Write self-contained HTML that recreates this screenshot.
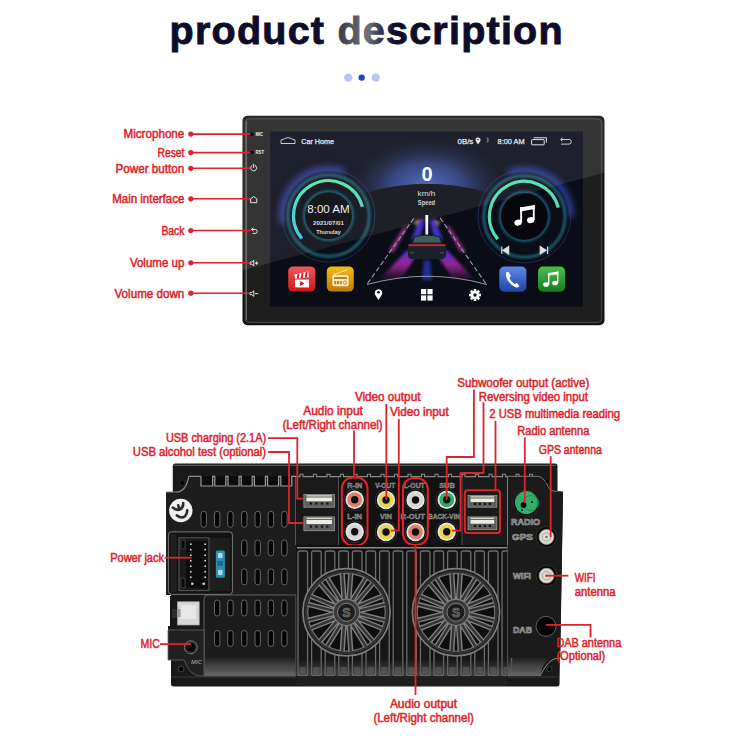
<!DOCTYPE html>
<html><head><meta charset="utf-8"><style>
html,body{margin:0;padding:0;background:#fff;width:750px;height:750px;overflow:hidden}
svg{display:block;font-family:'Liberation Sans', sans-serif}
</style></head><body>
<svg width="750" height="750" viewBox="0 0 750 750">
<defs>
<linearGradient id="tg" x1="339" y1="0" x2="396" y2="0" gradientUnits="userSpaceOnUse">
<stop offset="0" stop-color="#3c3c4a"/><stop offset="0.5" stop-color="#707078"/><stop offset="0.72" stop-color="#3a3a4c"/><stop offset="1" stop-color="#0d0c2a"/>
</linearGradient>
<linearGradient id="arcg" x1="0" y1="0" x2="0" y2="1"><stop offset="0" stop-color="#5de3a5"/><stop offset="1" stop-color="#3ec3e8"/></linearGradient>
<radialGradient id="glowL" cx="0.5" cy="0.5" r="0.5"><stop offset="0.6" stop-color="#2b3c8a" stop-opacity="0.8"/><stop offset="1" stop-color="#2b3c8a" stop-opacity="0"/></radialGradient>
<linearGradient id="redI" x1="0" y1="0" x2="0" y2="1"><stop offset="0" stop-color="#f25a5a"/><stop offset="1" stop-color="#cc1515"/></linearGradient>
<linearGradient id="yelI" x1="0" y1="0" x2="0" y2="1"><stop offset="0" stop-color="#f5bd12"/><stop offset="1" stop-color="#b97a0c"/></linearGradient>
<linearGradient id="bluI" x1="0" y1="0" x2="0" y2="1"><stop offset="0" stop-color="#5b8ae6"/><stop offset="1" stop-color="#2243a6"/></linearGradient>
<linearGradient id="grnI" x1="0" y1="0" x2="0" y2="1"><stop offset="0" stop-color="#4cc04a"/><stop offset="1" stop-color="#167a22"/></linearGradient>
<radialGradient id="skyg" cx="0.5" cy="0.15" r="0.6"><stop offset="0" stop-color="#3a4e9a"/><stop offset="1" stop-color="#1d2236" stop-opacity="0"/></radialGradient>
</defs>
<text x="169.6" y="43.8" font-size="39.5" font-weight="bold" fill="#0d0c2a" stroke="#0d0c2a" stroke-width="0.9" textLength="393" lengthAdjust="spacing">product <tspan fill="url(#tg)" stroke="url(#tg)">des</tspan>cription</text>
<circle cx="348.2" cy="77.6" r="4.2" fill="#b7c6ec"/>
<circle cx="361.7" cy="77.6" r="3.2" fill="#1f47c6"/>
<circle cx="375.8" cy="77.6" r="4.2" fill="#b7c6ec"/>
<rect x="242.5" y="115.7" width="362" height="209.6" rx="5" fill="#121212"/>
<rect x="245.3" y="118.8" width="356.4" height="203.6" rx="4" fill="#1e1e1e" stroke="#5a5a5a" stroke-width="0.8"/>
<clipPath id="unitclip"><rect x="242.5" y="115.7" width="362" height="209.6" rx="5"/></clipPath>
<polygon clip-path="url(#unitclip)" points="240,110 610,110 610,171.2 240,271" fill="#fff" opacity="0.1"/>
<rect x="270" y="131.8" width="313" height="174.6" fill="#0a0c17"/>
<clipPath id="scr"><rect x="270" y="131.8" width="313" height="174.6"/></clipPath>
<clipPath id="abovearc"><path d="M270,131.8 H583 V306 H577 V290 A150,106 0 0 0 277,290 V306 H270 Z"/></clipPath>
<g clip-path="url(#scr)">
<rect x="270" y="131.8" width="313" height="174.6" fill="#0e1120"/>
<defs><radialGradient id="dome" cx="427" cy="186" r="80" gradientUnits="userSpaceOnUse" gradientTransform="translate(427 186) scale(1 0.62) translate(-427 -186)"><stop offset="0" stop-color="#4560b8"/><stop offset="0.45" stop-color="#2c3a78"/><stop offset="1" stop-color="#111422" stop-opacity="0"/></radialGradient></defs>
<rect x="270" y="100" width="313" height="200" fill="url(#dome)" clip-path="url(#abovearc)"/>
<ellipse cx="427" cy="290" rx="150" ry="106" fill="#101118"/>
<polygon points="265,264.3 590,176.5 590,320 265,320" fill="#090b16" opacity="0.7"/>
</g>
<path d="M246.4,121 V320" stroke="#7a7a7a" stroke-width="0.9"/>
<circle cx="251.7" cy="134.4" r="1.8" fill="#050505"/><text x="255.5" y="136.2" font-size="5" font-weight="bold" fill="#eee" textLength="7.5" lengthAdjust="spacingAndGlyphs">MIC</text>
<circle cx="251.7" cy="152.5" r="1.8" fill="#050505"/><text x="255.5" y="154.3" font-size="5" font-weight="bold" fill="#eee" textLength="8.5" lengthAdjust="spacingAndGlyphs">RST</text>
<g fill="none" stroke="#eeeeee" stroke-width="0.95" stroke-linecap="round">
<path d="M255.3,165.3 A3,3 0 1 1 252.1,165.3 M253.7,164.2 V167.6"/>
<path d="M250.6,202.3 V198.8 L253.7,196.5 L256.8,198.8 V202.3 Z"/>
<path d="M251.8,229.4 H255.2 A2,2 0 0 1 255.2,233.4 H253 M253.2,227.9 L251.6,229.4 L253.2,230.9"/>
<path d="M250.3,262 H251.8 L253.8,260.3 V265.9 L251.8,264.2 H250.3 Z M255.4,263.1 H257.8 M256.6,261.9 V264.3"/>
<path d="M250.3,292.5 H251.8 L253.8,290.8 V296.4 L251.8,294.7 H250.3 Z M255.4,293.6 H257.8"/>
</g>
<path d="M281,143.5 V140 L288,137.5 L295,140 V143.5 Z" fill="none" stroke="#ddd" stroke-width="0.9"/>
<text x="301.3" y="144" font-size="7.6" fill="#ececec" stroke="#ececec" stroke-width="0.25" textLength="32.7" lengthAdjust="spacingAndGlyphs">Car Home</text>
<text x="457.5" y="143.8" font-size="7.6" fill="#e8e8e8" stroke="#e8e8e8" stroke-width="0.25" textLength="15.8" lengthAdjust="spacingAndGlyphs">0B/s</text>
<path d="M478,144.5 L475.6,140.8 A2.5,2.5 0 1 1 480.4,140.8 Z" fill="#f2f2f2"/><circle cx="478" cy="139.6" r="0.8" fill="#1d2030"/>
<path d="M486,138 L489,141 L487.5,142.5 V137.5 L489,139 L486,142" fill="none" stroke="#777" stroke-width="0.6"/>
<text x="497.6" y="143.8" font-size="7.6" fill="#e8e8e8" stroke="#e8e8e8" stroke-width="0.25" textLength="27" lengthAdjust="spacingAndGlyphs">8:00 AM</text>
<rect x="531.6" y="139.6" width="12.6" height="5.2" rx="0.6" fill="none" stroke="#e0e0e0" stroke-width="1"/><path d="M533.6,137.8 H546.4 V142.6" fill="none" stroke="#e0e0e0" stroke-width="1"/>
<path d="M561,139.5 H569 A2.3,2.3 0 0 1 569,144.1 H561 M562.5,137.8 L560.6,139.5 L562.5,141.2" fill="none" stroke="#ddd" stroke-width="0.9"/>
<defs><filter id="bl3" x="-50%" y="-50%" width="200%" height="200%"><feGaussianBlur stdDeviation="3"/></filter><filter id="bl1" x="-50%" y="-50%" width="200%" height="200%"><feGaussianBlur stdDeviation="0.9"/></filter></defs>
<path d="M283.20,223.69 A46,46 0 0 1 344.23,172.47" fill="none" stroke="#3a4cc0" stroke-width="7" filter="url(#bl3)" opacity="0.75"/>
<circle cx="328.5" cy="215.7" r="44" fill="#0e1220" fill-opacity="0.55"/>
<circle cx="328.5" cy="215.7" r="46.5" fill="none" stroke="#2c3c7a" stroke-width="0.8" opacity="0.8"/>
<circle cx="328.5" cy="215.7" r="40.7" fill="none" stroke="#1d6272" stroke-width="2.6" filter="url(#bl1)"/>
<circle cx="328.5" cy="215.7" r="37.5" fill="#0b0e17"/>
<path d="M301.89,238.43 A35,35 0 1 1 362.39,206.94" fill="none" stroke="url(#arcg)" stroke-width="3.2" />
<circle cx="328.5" cy="215.7" r="24.5" fill="#06080d" stroke="#25708c" stroke-width="1.6" filter="url(#bl1)"/>
<circle cx="328.5" cy="215.7" r="23.3" fill="#06080d"/>
<text x="328.5" y="212.8" font-size="10" text-anchor="middle" fill="#eee" textLength="42.5" lengthAdjust="spacingAndGlyphs">8:00 AM</text>
<text x="328.5" y="224.5" font-size="6" font-weight="bold" text-anchor="middle" fill="#ddd" textLength="31" lengthAdjust="spacingAndGlyphs">2021/07/01</text>
<text x="328.5" y="234" font-size="6" font-weight="bold" text-anchor="middle" fill="#ddd" textLength="24.5" lengthAdjust="spacingAndGlyphs">Thursday</text>
<path d="M508.67,173.17 A46,46 0 0 1 570.40,216.40" fill="none" stroke="#3a4cc0" stroke-width="7" filter="url(#bl3)" opacity="0.75"/>
<circle cx="524.4" cy="216.4" r="44" fill="#0e1220" fill-opacity="0.55"/>
<circle cx="524.4" cy="216.4" r="46.5" fill="none" stroke="#2c3c7a" stroke-width="0.8" opacity="0.8"/>
<circle cx="524.4" cy="216.4" r="40.7" fill="none" stroke="#1d6272" stroke-width="2.6" filter="url(#bl1)"/>
<circle cx="524.4" cy="216.4" r="37.5" fill="#0b0e17"/>
<path d="M497.79,239.13 A35,35 0 1 1 558.29,207.64" fill="none" stroke="#52dfb2" stroke-width="3.2" />
<circle cx="524.4" cy="216.4" r="24.5" fill="#06080d" stroke="#25708c" stroke-width="1.6" filter="url(#bl1)"/>
<circle cx="524.4" cy="216.4" r="23.3" fill="#06080d"/>
<g fill="#fff"><ellipse cx="518" cy="222.6" rx="3.7" ry="3" transform="rotate(-15 518 222.6)"/><ellipse cx="530.6" cy="220.1" rx="3.7" ry="3" transform="rotate(-15 530.6 220.1)"/><rect x="520.2" y="207" width="1.9" height="15.5"/><rect x="532.8" y="205" width="1.9" height="15"/><polygon points="520.2,207.5 534.7,205 534.7,209 520.2,211.5"/></g>
<path d="M501.8,246.5 V254 M508.7,246.5 L503,250.2 L508.7,254 Z" fill="#e0e0e0" stroke="#e0e0e0" stroke-width="1.1"/>
<path d="M547.6,246.5 V254 M540.2,246.5 L546,250.2 L540.2,254 Z" fill="#e0e0e0" stroke="#e0e0e0" stroke-width="1.1"/>
<text x="427" y="181.3" font-size="20" font-weight="bold" text-anchor="middle" fill="#fff">0</text>
<text x="426.5" y="195.5" font-size="7.7" text-anchor="middle" fill="#ddd" textLength="18" lengthAdjust="spacingAndGlyphs">km/h</text>
<text x="426.5" y="205.3" font-size="6.5" font-weight="bold" text-anchor="middle" fill="#ccc" textLength="17.3" lengthAdjust="spacingAndGlyphs">Speed</text>
<defs><linearGradient id="strL" x1="0" y1="0" x2="0" y2="1"><stop offset="0" stop-color="#4a3ae0" stop-opacity="0.9"/><stop offset="0.45" stop-color="#b02ab0" stop-opacity="0.85"/><stop offset="1" stop-color="#a02890" stop-opacity="0"/></linearGradient><linearGradient id="beam" x1="0" y1="0" x2="0" y2="1"><stop offset="0" stop-color="#fff"/><stop offset="1" stop-color="#dde4ff"/></linearGradient><filter id="blur2" x="-50%" y="-50%" width="200%" height="200%"><feGaussianBlur stdDeviation="1.8"/></filter><filter id="blur1" x="-50%" y="-50%" width="200%" height="200%"><feGaussianBlur stdDeviation="0.6"/></filter></defs>
<g filter="url(#blur2)">
<polygon points="407,250 416,256 400,281 380,279" fill="url(#strL)"/>
<polygon points="447,250 438,256 454,281 474,279" fill="url(#strL)"/>
<polygon points="419,220 425,220 419,240 411,240" fill="#4a3ae0" opacity="0.85"/>
<polygon points="435,220 429,220 435,240 443,240" fill="#4a3ae0" opacity="0.85"/>
<polygon points="403,228 409,224 394,252 388,252" fill="#c03aa0" opacity="0.7"/>
<polygon points="451,228 445,224 460,252 466,252" fill="#c03aa0" opacity="0.7"/>
<polygon points="414,222 420,219 416,226" fill="#f0a060" opacity="0.7"/>
<polygon points="440,222 434,219 438,226" fill="#f0a060" opacity="0.7"/>
<polygon points="424,260 430,260 432,280 422,280" fill="#2a3ac0" opacity="0.7"/>
</g>
<path d="M367.5,283.5 L415,216.7 M485.8,283.5 L439.2,216.7" stroke="#9a9ab0" stroke-width="1.1" stroke-dasharray="5,2.5"/>
<rect x="425.4" y="215" width="2.8" height="21" fill="url(#beam)" filter="url(#blur1)"/>
<path d="M414,236 Q427,233 440,236 L443,243 L446,245.5 L446,256 Q445,259 442,259 L412,259 Q409,259 408,256 L408,245.5 L411,243 Z" fill="#1a2128"/>
<path d="M415,237 Q427,234.5 439,237 L441,242.5 L413,242.5 Z" fill="#3e5e5a"/>
<rect x="408.5" y="244.2" width="37" height="2" fill="#b82a3a"/>
<rect x="410" y="252" width="4" height="1.5" fill="#444"/><rect x="440" y="252" width="4" height="1.5" fill="#444"/>
<path d="M367,284.5 Q427,268 487,284.5" fill="none" stroke="#a0a0b0" stroke-width="0.9"/>
<path d="M378.5,300 L375,294.5 A3.8,3.8 0 1 1 382,294.5 Z" fill="#fff"/><circle cx="378.5" cy="292.2" r="1.3" fill="#0a0c17"/>
<g fill="#fff"><rect x="421" y="289" width="5.2" height="5.2"/><rect x="427.4" y="289" width="5.2" height="5.2"/><rect x="421" y="295.4" width="5.2" height="5.2"/><rect x="427.4" y="295.4" width="5.2" height="5.2"/></g>
<g transform="translate(475,295)"><circle r="4.3" fill="#fff"/><rect x="-1.3" y="-6" width="2.6" height="3" fill="#fff" transform="rotate(0)"/><rect x="-1.3" y="-6" width="2.6" height="3" fill="#fff" transform="rotate(45)"/><rect x="-1.3" y="-6" width="2.6" height="3" fill="#fff" transform="rotate(90)"/><rect x="-1.3" y="-6" width="2.6" height="3" fill="#fff" transform="rotate(135)"/><rect x="-1.3" y="-6" width="2.6" height="3" fill="#fff" transform="rotate(180)"/><rect x="-1.3" y="-6" width="2.6" height="3" fill="#fff" transform="rotate(225)"/><rect x="-1.3" y="-6" width="2.6" height="3" fill="#fff" transform="rotate(270)"/><rect x="-1.3" y="-6" width="2.6" height="3" fill="#fff" transform="rotate(315)"/><circle r="1.7" fill="#0a0c17"/></g>
<rect x="288.2" y="266.4" width="27.2" height="25.2" rx="5" fill="url(#redI)"/>
<g fill="#fff"><rect x="295" y="279.6" width="13.9" height="7.8"/><polygon points="294.4,274.5 308.2,271.5 309,277.3 295.2,278.8"/></g>
<g fill="#d42020"><polygon points="297.5,273.9 299.5,273.5 298.8,278.5 296.8,278.7"/><polygon points="301.5,273 303.5,272.6 302.8,278 300.8,278.2"/><polygon points="305.5,272.2 307.5,271.8 306.8,277.5 304.8,277.7"/></g>
<polygon points="300.2,281 304.6,283.5 300.2,286" fill="#c81818"/>
<rect x="326.8" y="266.4" width="27" height="25.2" rx="5" fill="url(#yelI)"/>
<path d="M333.5,274.5 L347.5,269.7" stroke="#f8ecc8" stroke-width="1"/>
<rect x="332.3" y="275" width="16.3" height="11.3" rx="1.8" fill="#f8ecc8"/>
<rect x="334" y="277" width="13" height="2" fill="#b88418"/>
<g fill="#b88418"><rect x="334.2" y="281" width="2" height="3.2"/><rect x="337" y="281" width="2" height="3.2"/><rect x="339.8" y="281" width="2" height="3.2"/></g><circle cx="345" cy="282.6" r="1.7" fill="none" stroke="#b88418" stroke-width="0.9"/>
<rect x="499.3" y="266.5" width="27.1" height="25.2" rx="5" fill="url(#bluI)"/>
<path d="M506.5,272 Q505,274 507,279 Q510,285 516,287.5 Q518.5,288 519.5,286 L517,283 L514.5,284 Q510.5,281.5 509.5,278 L511,276 L508.5,272 Z" fill="#fff"/>
<rect x="538" y="266.5" width="27.1" height="25.2" rx="5" fill="url(#grnI)"/>
<g fill="#fff"><ellipse cx="546" cy="284.5" rx="2.8" ry="2.3"/><ellipse cx="555" cy="283" rx="2.8" ry="2.3"/><rect x="548" y="273" width="1.4" height="11.5"/><rect x="557" y="271.5" width="1.4" height="11.5"/><polygon points="548,273 558.4,271.5 558.4,274.2 548,275.7"/></g>
<polygon clip-path="url(#scr)" points="240,110 610,110 610,171.2 240,271" fill="#fff" opacity="0.065"/>
<text x="184.3" y="138.4" font-size="12" text-anchor="end" textLength="60.8" lengthAdjust="spacingAndGlyphs" fill="#e0232b" stroke="#e0232b" stroke-width="0.5" class="lb">Microphone</text>
<circle cx="190.8" cy="134.1" r="2.6" fill="#e0232b"/>
<path d="M190.8,134.1 L250.5,134.1" fill="none" stroke="#e0232b" stroke-width="1.6"/>
<text x="184.3" y="156.9" font-size="12" text-anchor="end" textLength="26.7" lengthAdjust="spacingAndGlyphs" fill="#e0232b" stroke="#e0232b" stroke-width="0.5" class="lb">Reset</text>
<circle cx="190.8" cy="152.6" r="2.6" fill="#e0232b"/>
<path d="M190.8,152.6 L250.5,152.6" fill="none" stroke="#e0232b" stroke-width="1.6"/>
<text x="184.3" y="172.6" font-size="12" text-anchor="end" textLength="68.9" lengthAdjust="spacingAndGlyphs" fill="#e0232b" stroke="#e0232b" stroke-width="0.5" class="lb">Power button</text>
<circle cx="190.8" cy="168.3" r="2.6" fill="#e0232b"/>
<path d="M190.8,168.3 L250,168.3" fill="none" stroke="#e0232b" stroke-width="1.6"/>
<text x="184.3" y="203.1" font-size="12" text-anchor="end" textLength="72.1" lengthAdjust="spacingAndGlyphs" fill="#e0232b" stroke="#e0232b" stroke-width="0.5" class="lb">Main interface</text>
<circle cx="190.8" cy="198.8" r="2.6" fill="#e0232b"/>
<path d="M190.8,198.8 L250,198.8" fill="none" stroke="#e0232b" stroke-width="1.6"/>
<text x="184.3" y="234.8" font-size="12" text-anchor="end" textLength="22.9" lengthAdjust="spacingAndGlyphs" fill="#e0232b" stroke="#e0232b" stroke-width="0.5" class="lb">Back</text>
<circle cx="190.8" cy="230.5" r="2.6" fill="#e0232b"/>
<path d="M190.8,230.5 L251,230.5" fill="none" stroke="#e0232b" stroke-width="1.6"/>
<text x="184.3" y="267.1" font-size="12" text-anchor="end" textLength="54.4" lengthAdjust="spacingAndGlyphs" fill="#e0232b" stroke="#e0232b" stroke-width="0.5" class="lb">Volume up</text>
<circle cx="190.8" cy="262.8" r="2.6" fill="#e0232b"/>
<path d="M190.8,262.8 L250,262.8" fill="none" stroke="#e0232b" stroke-width="1.6"/>
<text x="184.3" y="297.5" font-size="12" text-anchor="end" textLength="69.8" lengthAdjust="spacingAndGlyphs" fill="#e0232b" stroke="#e0232b" stroke-width="0.5" class="lb">Volume down</text>
<circle cx="190.8" cy="293.2" r="2.6" fill="#e0232b"/>
<path d="M190.8,293.2 L250,293.2" fill="none" stroke="#e0232b" stroke-width="1.6"/>
<path d="M175,463.5 H555 Q557.5,463.5 557.5,466 V491.5 H561 Q563,491.5 563,494 L559.5,684 Q559.5,686.5 557,686.5 H174 Q171,686.5 171,684 V660 H168 V626 H171 V595 H166 V492 H172.8 V466 Q172.8,463.5 175,463.5 Z" fill="#19191a"/>
<path d="M174,465.3 H556" stroke="#6a6a6a" stroke-width="1"/>
<path d="M166,492 H176 Q186,492 188.8,476.3 H296 V595 H166 Z" fill="#1d1d1e"/>
<path d="M166,492 H176 Q186,492 188.8,476.3 H201" fill="none" stroke="#8a8a8a" stroke-width="1.2"/>
<path d="M295.5,476.3 V545" stroke="#555" stroke-width="1"/>
<circle cx="182.4" cy="482.7" r="2.8" fill="#050505" stroke="#3a3a3a" stroke-width="0.6"/>
<path d="M201,476.3 V486 H212.6 V476.3 H214.8 V486 H225.8 V476.3 H228.0 V486 H239.0 V476.3 H241.2 V486 H252.2 V476.3 H254.4 V486 H265.4 V476.3 H267.6 V486 H278.6 V476.3 H280.8 V486 H291.8 V476.3 H294.0 H296" fill="#0b0b0b" stroke="#9a9a9a" stroke-width="1.2"/>
<circle cx="180.8" cy="510.5" r="11.7" fill="#f0f0f0"/>
<path d="M172.8,507.6 Q176.5,510.8 180.2,509.4 Q183.4,507.6 183.2,503 M178.2,505.2 L179,508.6 M176.9,515.4 Q181.5,519 185,516.2 Q187.3,514 187.2,510.4" fill="none" stroke="#2a2a2a" stroke-width="2.6" stroke-linecap="round"/>
<rect x="201.0" y="511.3" width="5.4" height="16" rx="2.7" fill="#050505" stroke="#8a8a8a" stroke-width="0.7"/>
<rect x="214.5" y="511.3" width="5.4" height="16" rx="2.7" fill="#050505" stroke="#8a8a8a" stroke-width="0.7"/>
<rect x="227.7" y="511.3" width="5.4" height="16" rx="2.7" fill="#050505" stroke="#8a8a8a" stroke-width="0.7"/>
<rect x="241.6" y="511.3" width="5.4" height="16" rx="2.7" fill="#050505" stroke="#8a8a8a" stroke-width="0.7"/>
<rect x="255.0" y="511.3" width="5.4" height="16" rx="2.7" fill="#050505" stroke="#8a8a8a" stroke-width="0.7"/>
<rect x="268.2" y="511.3" width="5.4" height="16" rx="2.7" fill="#050505" stroke="#8a8a8a" stroke-width="0.7"/>
<rect x="281.7" y="511.3" width="5.4" height="16" rx="2.7" fill="#050505" stroke="#8a8a8a" stroke-width="0.7"/>
<rect x="241.6" y="540.0" width="5.4" height="16" rx="2.7" fill="#050505" stroke="#8a8a8a" stroke-width="0.7"/>
<rect x="255.0" y="540.0" width="5.4" height="16" rx="2.7" fill="#050505" stroke="#8a8a8a" stroke-width="0.7"/>
<rect x="268.2" y="540.0" width="5.4" height="16" rx="2.7" fill="#050505" stroke="#8a8a8a" stroke-width="0.7"/>
<rect x="281.7" y="540.0" width="5.4" height="16" rx="2.7" fill="#050505" stroke="#8a8a8a" stroke-width="0.7"/>
<rect x="241.6" y="568.9" width="5.4" height="16" rx="2.7" fill="#050505" stroke="#8a8a8a" stroke-width="0.7"/>
<rect x="255.0" y="568.9" width="5.4" height="16" rx="2.7" fill="#050505" stroke="#8a8a8a" stroke-width="0.7"/>
<rect x="268.2" y="568.9" width="5.4" height="16" rx="2.7" fill="#050505" stroke="#8a8a8a" stroke-width="0.7"/>
<rect x="281.7" y="568.9" width="5.4" height="16" rx="2.7" fill="#050505" stroke="#8a8a8a" stroke-width="0.7"/>
<rect x="168.4" y="531.9" width="64" height="62.4" rx="3" fill="#121213" stroke="#7a7a7a" stroke-width="1"/>
<rect x="170.5" y="534" width="6" height="58" fill="#202020"/>
<rect x="179" y="537.8" width="30" height="52.8" fill="#1a1a1a" stroke="#5a5a5a" stroke-width="1"/>
<rect x="186" y="541" width="22" height="47" fill="#0d0d0d"/>
<rect x="181" y="540" width="4" height="9" fill="#0a0a0a" stroke="#555" stroke-width="0.6"/><rect x="181" y="578" width="4" height="10" fill="#0a0a0a" stroke="#555" stroke-width="0.6"/>
<circle cx="190.8" cy="544.2" r="0.9" fill="#ddd"/><circle cx="205.2" cy="544.2" r="0.9" fill="#ddd"/>
<circle cx="190.8" cy="549.7" r="0.9" fill="#ddd"/><circle cx="205.2" cy="549.7" r="0.9" fill="#ddd"/>
<circle cx="190.8" cy="555.2" r="0.9" fill="#ddd"/><circle cx="205.2" cy="555.2" r="0.9" fill="#ddd"/>
<circle cx="190.8" cy="560.7" r="0.9" fill="#ddd"/><circle cx="205.2" cy="560.7" r="0.9" fill="#ddd"/>
<circle cx="190.8" cy="566.2" r="0.9" fill="#ddd"/><circle cx="205.2" cy="566.2" r="0.9" fill="#ddd"/>
<circle cx="190.8" cy="571.7" r="0.9" fill="#ddd"/><circle cx="205.2" cy="571.7" r="0.9" fill="#ddd"/>
<circle cx="190.8" cy="577.2" r="0.9" fill="#ddd"/><circle cx="205.2" cy="577.2" r="0.9" fill="#ddd"/>
<circle cx="192.3" cy="583.7" r="1.3" fill="#ddd"/><circle cx="203.7" cy="583.7" r="1.3" fill="#ddd"/>
<rect x="210" y="538" width="20" height="53" fill="#1e1e1f"/>
<rect x="215.9" y="550.6" width="9" height="27.2" rx="1.5" fill="#2f8fb0"/><rect x="218" y="553" width="4.5" height="5" fill="#9fe0f0"/><rect x="218" y="570" width="4.5" height="5" fill="#9fe0f0"/><rect x="217.5" y="561" width="5.5" height="5" fill="#1a6a88"/>
<rect x="170" y="596" width="34" height="31" fill="#161617"/>
<rect x="172" y="609" width="6" height="9" fill="#2a2a2a"/>
<rect x="177.5" y="601.8" width="21.7" height="23.2" fill="#d5d5d5" stroke="#aaa" stroke-width="0.7"/><rect x="181" y="605" width="15" height="14" fill="#e8e8e8"/><rect x="177.5" y="609" width="3" height="8" fill="#999"/>
<path d="M204,676 V599 Q204,595 208,595 H296 V676 Z" fill="#1c1c1d" stroke="#6a6a6a" stroke-width="0.9"/>
<defs><linearGradient id="refl" x1="0" y1="0" x2="0" y2="1"><stop offset="0" stop-color="#3c3c3e" stop-opacity="0.2"/><stop offset="0.4" stop-color="#4a4a4c" stop-opacity="0.8"/><stop offset="1" stop-color="#68686a"/></linearGradient></defs>
<rect x="204.5" y="658" width="91" height="18" fill="url(#refl)"/>
<rect x="214.5" y="600.0" width="5.4" height="16" rx="2.7" fill="#050505" stroke="#8a8a8a" stroke-width="0.7"/>
<rect x="227.7" y="600.0" width="5.4" height="16" rx="2.7" fill="#050505" stroke="#8a8a8a" stroke-width="0.7"/>
<rect x="241.6" y="600.0" width="5.4" height="16" rx="2.7" fill="#050505" stroke="#8a8a8a" stroke-width="0.7"/>
<rect x="255.0" y="600.0" width="5.4" height="16" rx="2.7" fill="#050505" stroke="#8a8a8a" stroke-width="0.7"/>
<rect x="268.2" y="600.0" width="5.4" height="16" rx="2.7" fill="#050505" stroke="#8a8a8a" stroke-width="0.7"/>
<rect x="281.7" y="600.0" width="5.4" height="16" rx="2.7" fill="#050505" stroke="#8a8a8a" stroke-width="0.7"/>
<rect x="214.5" y="630.5" width="5.4" height="16" rx="2.7" fill="#050505" stroke="#8a8a8a" stroke-width="0.7"/>
<rect x="227.7" y="630.5" width="5.4" height="16" rx="2.7" fill="#050505" stroke="#8a8a8a" stroke-width="0.7"/>
<rect x="241.6" y="630.5" width="5.4" height="16" rx="2.7" fill="#050505" stroke="#8a8a8a" stroke-width="0.7"/>
<rect x="255.0" y="630.5" width="5.4" height="16" rx="2.7" fill="#050505" stroke="#8a8a8a" stroke-width="0.7"/>
<rect x="268.2" y="630.5" width="5.4" height="16" rx="2.7" fill="#050505" stroke="#8a8a8a" stroke-width="0.7"/>
<rect x="281.7" y="630.5" width="5.4" height="16" rx="2.7" fill="#050505" stroke="#8a8a8a" stroke-width="0.7"/>
<path d="M168,630 H204 V676 H200 Q190,676 184,660 H168 Z" fill="#202021" stroke="#666" stroke-width="0.8"/>
<circle cx="190.8" cy="647.3" r="6.5" fill="#2a2a2a" stroke="#777" stroke-width="1"/><circle cx="190.8" cy="647.3" r="4.3" fill="#050505"/>
<text x="191" y="663.5" font-size="6" font-weight="bold" fill="#8a8a8a" font-style="italic">MIC</text>
<circle cx="181" cy="669" r="3" fill="#050505" stroke="#4a4a4a" stroke-width="0.8"/>
<path d="M171,677 H558.5" stroke="#3a3a3a" stroke-width="1"/>
<rect x="296.5" y="476" width="211" height="69" fill="#1a1a1b"/>
<rect x="339" y="477" width="123" height="68" fill="#121213"/>
<path d="M338.5,477 V545 M462,477 V545" stroke="#555" stroke-width="0.9"/>
<path d="M296,476.6 H300.0 V474.2 H303.0 V476.6 H313.5 V474.2 H316.5 V476.6 H327.0 V474.2 H330.0 V476.6 H340.5 V474.2 H343.5 V476.6 H354.0 V474.2 H357.0 V476.6 H367.5 V474.2 H370.5 V476.6 H381.0 V474.2 H384.0 V476.6 H394.5 V474.2 H397.5 V476.6 H408.0 V474.2 H411.0 V476.6 H421.5 V474.2 H424.5 V476.6 H435.0 V474.2 H438.0 V476.6 H448.5 V474.2 H451.5 V476.6 H462.0 V474.2 H465.0 V476.6 H475.5 V474.2 H478.5 V476.6 H489.0 V474.2 H492.0 V476.6 H502.5 V474.2 H505.5 V476.6 H516.0 V474.2 H519.0 V476.6 H529.5 V474.2 H532.5 V476.6 H507.5" fill="none" stroke="#8a8a8a" stroke-width="1.1"/>
<rect x="303.9" y="494.5" width="30.5" height="12.7" fill="#5e5e5a" stroke="#9a9a92" stroke-width="0.8"/>
<rect x="306.4" y="495.3" width="25.5" height="1.2" fill="#e8e4d8"/>
<rect x="306.4" y="497.5" width="25.5" height="3.8" fill="#ecebe6"/>
<rect x="309.8" y="502.4" width="2.2" height="2.2" fill="#111"/>
<rect x="315.3" y="502.4" width="2.2" height="2.2" fill="#111"/>
<rect x="320.8" y="502.4" width="2.2" height="2.2" fill="#111"/>
<rect x="326.3" y="502.4" width="2.2" height="2.2" fill="#111"/>
<rect x="303.9" y="516.9" width="30.5" height="13.8" fill="#5e5e5a" stroke="#9a9a92" stroke-width="0.8"/>
<rect x="306.4" y="517.7" width="25.5" height="1.2" fill="#e8e4d8"/>
<rect x="306.4" y="519.9" width="25.5" height="4.1" fill="#ecebe6"/>
<rect x="309.8" y="525.5" width="2.2" height="2.2" fill="#111"/>
<rect x="315.3" y="525.5" width="2.2" height="2.2" fill="#111"/>
<rect x="320.8" y="525.5" width="2.2" height="2.2" fill="#111"/>
<rect x="326.3" y="525.5" width="2.2" height="2.2" fill="#111"/>
<rect x="468" y="495.5" width="28.8" height="11.7" fill="#5e5e5a" stroke="#9a9a92" stroke-width="0.8"/>
<rect x="470.5" y="496.3" width="23.8" height="1.2" fill="#e8e4d8"/>
<rect x="470.5" y="498.5" width="23.8" height="3.5" fill="#ecebe6"/>
<rect x="473.9" y="502.8" width="2.2" height="2.2" fill="#111"/>
<rect x="478.8" y="502.8" width="2.2" height="2.2" fill="#111"/>
<rect x="483.8" y="502.8" width="2.2" height="2.2" fill="#111"/>
<rect x="488.7" y="502.8" width="2.2" height="2.2" fill="#111"/>
<rect x="468" y="516.9" width="28.8" height="12.8" fill="#5e5e5a" stroke="#9a9a92" stroke-width="0.8"/>
<rect x="470.5" y="517.7" width="23.8" height="1.2" fill="#e8e4d8"/>
<rect x="470.5" y="519.9" width="23.8" height="3.8" fill="#ecebe6"/>
<rect x="473.9" y="524.8" width="2.2" height="2.2" fill="#111"/>
<rect x="478.8" y="524.8" width="2.2" height="2.2" fill="#111"/>
<rect x="483.8" y="524.8" width="2.2" height="2.2" fill="#111"/>
<rect x="488.7" y="524.8" width="2.2" height="2.2" fill="#111"/>
<circle cx="354.7" cy="499.8" r="10.8" fill="#0b0b0b" stroke="#3a3a3a" stroke-width="0.8"/>
<circle cx="354.7" cy="499.8" r="9.2" fill="#e4e4e2"/>
<circle cx="354.7" cy="499.8" r="7.4" fill="#e0806c"/>
<circle cx="354.7" cy="499.8" r="3.7" fill="#0e0e0e"/>
<circle cx="354.7" cy="531.8" r="10.8" fill="#0b0b0b" stroke="#3a3a3a" stroke-width="0.8"/>
<circle cx="354.7" cy="531.8" r="9.2" fill="#e4e4e2"/>
<circle cx="354.7" cy="531.8" r="7.4" fill="#d6d6d6"/>
<circle cx="354.7" cy="531.8" r="3.7" fill="#0e0e0e"/>
<circle cx="386" cy="500" r="10.8" fill="#0b0b0b" stroke="#3a3a3a" stroke-width="0.8"/>
<circle cx="386" cy="500" r="9.2" fill="#e4e4e2"/>
<circle cx="386" cy="500" r="7.4" fill="#e8d648"/>
<circle cx="386" cy="500" r="3.7" fill="#0e0e0e"/>
<circle cx="386" cy="532" r="10.8" fill="#0b0b0b" stroke="#3a3a3a" stroke-width="0.8"/>
<circle cx="386" cy="532" r="9.2" fill="#e4e4e2"/>
<circle cx="386" cy="532" r="7.4" fill="#e8d648"/>
<circle cx="386" cy="532" r="3.7" fill="#0e0e0e"/>
<circle cx="415.5" cy="500" r="10.8" fill="#0b0b0b" stroke="#3a3a3a" stroke-width="0.8"/>
<circle cx="415.5" cy="500" r="9.2" fill="#e4e4e2"/>
<circle cx="415.5" cy="500" r="7.4" fill="#d6d6d6"/>
<circle cx="415.5" cy="500" r="3.7" fill="#0e0e0e"/>
<circle cx="415.5" cy="532" r="10.8" fill="#0b0b0b" stroke="#3a3a3a" stroke-width="0.8"/>
<circle cx="415.5" cy="532" r="9.2" fill="#e4e4e2"/>
<circle cx="415.5" cy="532" r="7.4" fill="#e0806c"/>
<circle cx="415.5" cy="532" r="3.7" fill="#0e0e0e"/>
<circle cx="446.7" cy="499.8" r="10.8" fill="#0b0b0b" stroke="#3a3a3a" stroke-width="0.8"/>
<circle cx="446.7" cy="499.8" r="9.2" fill="#e4e4e2"/>
<circle cx="446.7" cy="499.8" r="7.4" fill="#2faa6a"/>
<circle cx="446.7" cy="499.8" r="3.7" fill="#0e0e0e"/>
<circle cx="446.7" cy="531.8" r="10.8" fill="#0b0b0b" stroke="#3a3a3a" stroke-width="0.8"/>
<circle cx="446.7" cy="531.8" r="9.2" fill="#e4e4e2"/>
<circle cx="446.7" cy="531.8" r="7.4" fill="#e8d648"/>
<circle cx="446.7" cy="531.8" r="3.7" fill="#0e0e0e"/>
<text x="354.7" y="488.4" font-size="6.8" font-weight="bold" text-anchor="middle" fill="#5e5e5e" stroke="#a8a8a8" stroke-width="0.35" textLength="15" lengthAdjust="spacingAndGlyphs">R-IN</text>
<text x="354.7" y="519.1999999999999" font-size="6.8" font-weight="bold" text-anchor="middle" fill="#5e5e5e" stroke="#a8a8a8" stroke-width="0.35" textLength="15" lengthAdjust="spacingAndGlyphs">L-IN</text>
<text x="385.2" y="488.4" font-size="6.8" font-weight="bold" text-anchor="middle" fill="#5e5e5e" stroke="#a8a8a8" stroke-width="0.35" textLength="20" lengthAdjust="spacingAndGlyphs">V-OUT</text>
<text x="386" y="519.1999999999999" font-size="6.8" font-weight="bold" text-anchor="middle" fill="#5e5e5e" stroke="#a8a8a8" stroke-width="0.35" textLength="12" lengthAdjust="spacingAndGlyphs">VIN</text>
<text x="414.3" y="488.4" font-size="6.8" font-weight="bold" text-anchor="middle" fill="#5e5e5e" stroke="#a8a8a8" stroke-width="0.35" textLength="21" lengthAdjust="spacingAndGlyphs">L-OUT</text>
<text x="412.8" y="519.1999999999999" font-size="6.8" font-weight="bold" text-anchor="middle" fill="#5e5e5e" stroke="#a8a8a8" stroke-width="0.35" textLength="24.5" lengthAdjust="spacingAndGlyphs">R-OUT</text>
<text x="447" y="488.4" font-size="6.8" font-weight="bold" text-anchor="middle" fill="#5e5e5e" stroke="#a8a8a8" stroke-width="0.35" textLength="15.7" lengthAdjust="spacingAndGlyphs">SUB</text>
<text x="444" y="519.1999999999999" font-size="6.8" font-weight="bold" text-anchor="middle" fill="#5e5e5e" stroke="#a8a8a8" stroke-width="0.35" textLength="32" lengthAdjust="spacingAndGlyphs">BACK-VIN</text>
<rect x="341.9" y="477.4" width="25.6" height="68.2" rx="11" fill="none" stroke="#e0232b" stroke-width="2"/>
<rect x="403" y="478" width="24.8" height="67" rx="11" fill="none" stroke="#e0232b" stroke-width="2"/>
<rect x="464.8" y="490.2" width="35.2" height="42.7" rx="3" fill="none" stroke="#e0232b" stroke-width="2"/>
<rect x="296.5" y="545" width="211" height="135" fill="#101011"/>
<path d="M297,547.8 H507" stroke="#8a8a8a" stroke-width="1.4"/>
<rect x="298.0" y="551" width="9.6" height="124.5" rx="2" fill="#161617" stroke="#6e6e6e" stroke-width="1.3"/>
<rect x="299.5" y="667" width="6.6" height="7" fill="#4a4a4b"/>
<rect x="311.6" y="551" width="9.6" height="124.5" rx="2" fill="#161617" stroke="#6e6e6e" stroke-width="1.3"/>
<rect x="313.1" y="667" width="6.6" height="7" fill="#4a4a4b"/>
<rect x="325.2" y="551" width="9.6" height="124.5" rx="2" fill="#161617" stroke="#6e6e6e" stroke-width="1.3"/>
<rect x="326.7" y="667" width="6.6" height="7" fill="#4a4a4b"/>
<rect x="338.8" y="551" width="9.6" height="124.5" rx="2" fill="#161617" stroke="#6e6e6e" stroke-width="1.3"/>
<rect x="340.3" y="667" width="6.6" height="7" fill="#4a4a4b"/>
<rect x="352.4" y="551" width="9.6" height="124.5" rx="2" fill="#161617" stroke="#6e6e6e" stroke-width="1.3"/>
<rect x="353.9" y="667" width="6.6" height="7" fill="#4a4a4b"/>
<rect x="366.0" y="551" width="9.6" height="124.5" rx="2" fill="#161617" stroke="#6e6e6e" stroke-width="1.3"/>
<rect x="367.5" y="667" width="6.6" height="7" fill="#4a4a4b"/>
<rect x="379.6" y="551" width="9.6" height="124.5" rx="2" fill="#161617" stroke="#6e6e6e" stroke-width="1.3"/>
<rect x="381.1" y="667" width="6.6" height="7" fill="#4a4a4b"/>
<rect x="393.2" y="551" width="9.6" height="124.5" rx="2" fill="#161617" stroke="#6e6e6e" stroke-width="1.3"/>
<rect x="394.7" y="667" width="6.6" height="7" fill="#4a4a4b"/>
<rect x="406.8" y="551" width="9.6" height="124.5" rx="2" fill="#161617" stroke="#6e6e6e" stroke-width="1.3"/>
<rect x="408.3" y="667" width="6.6" height="7" fill="#4a4a4b"/>
<rect x="420.4" y="551" width="9.6" height="124.5" rx="2" fill="#161617" stroke="#6e6e6e" stroke-width="1.3"/>
<rect x="421.9" y="667" width="6.6" height="7" fill="#4a4a4b"/>
<rect x="434.0" y="551" width="9.6" height="124.5" rx="2" fill="#161617" stroke="#6e6e6e" stroke-width="1.3"/>
<rect x="435.5" y="667" width="6.6" height="7" fill="#4a4a4b"/>
<rect x="447.6" y="551" width="9.6" height="124.5" rx="2" fill="#161617" stroke="#6e6e6e" stroke-width="1.3"/>
<rect x="449.1" y="667" width="6.6" height="7" fill="#4a4a4b"/>
<rect x="461.2" y="551" width="9.6" height="124.5" rx="2" fill="#161617" stroke="#6e6e6e" stroke-width="1.3"/>
<rect x="462.7" y="667" width="6.6" height="7" fill="#4a4a4b"/>
<rect x="474.8" y="551" width="9.6" height="124.5" rx="2" fill="#161617" stroke="#6e6e6e" stroke-width="1.3"/>
<rect x="476.3" y="667" width="6.6" height="7" fill="#4a4a4b"/>
<rect x="488.4" y="551" width="9.6" height="124.5" rx="2" fill="#161617" stroke="#6e6e6e" stroke-width="1.3"/>
<rect x="489.9" y="667" width="6.6" height="7" fill="#4a4a4b"/>
<rect x="502.0" y="551" width="9.6" height="124.5" rx="2" fill="#161617" stroke="#6e6e6e" stroke-width="1.3"/>
<rect x="503.5" y="667" width="6.6" height="7" fill="#4a4a4b"/>
<rect x="296.5" y="660" width="211" height="16" fill="url(#refl)" opacity="0.55"/>
<rect x="296.5" y="676" width="211" height="10" fill="#1f1f20"/>
<circle cx="346.5" cy="612.3" r="43.6" fill="#0e0e0f" stroke="#7c7c7c" stroke-width="1.8"/>
<circle cx="346.5" cy="612.3" r="40.8" fill="none" stroke="#303030" stroke-width="2.6"/>
<circle cx="346.5" cy="612.3" r="38.8" fill="none" stroke="#6e6e6e" stroke-width="1.3"/>
<path d="M344.1,600.3 L342.2,573.3 M348.9,600.3 L350.8,573.3 M351.6,601.2 L365.9,578.2 M355.5,604.0 L372.9,583.3 M357.2,606.3 L382.3,596.2 M358.7,610.9 L384.9,604.3 M358.7,613.7 L384.9,620.3 M357.2,618.3 L382.3,628.4 M355.5,620.6 L372.9,641.3 M351.6,623.4 L365.9,646.4 M348.9,624.3 L350.8,651.3 M344.1,624.3 L342.2,651.3 M341.4,623.4 L327.1,646.4 M337.5,620.6 L320.1,641.3 M335.8,618.3 L310.7,628.4 M334.3,613.7 L308.1,620.3 M334.3,610.9 L308.1,604.3 M335.8,606.3 L310.7,596.2 M337.5,604.0 L320.1,583.3 M341.4,601.2 L327.1,578.2" stroke="#808080" stroke-width="5.2"/>
<path d="M344.1,600.3 L342.2,573.3 M348.9,600.3 L350.8,573.3 M351.6,601.2 L365.9,578.2 M355.5,604.0 L372.9,583.3 M357.2,606.3 L382.3,596.2 M358.7,610.9 L384.9,604.3 M358.7,613.7 L384.9,620.3 M357.2,618.3 L382.3,628.4 M355.5,620.6 L372.9,641.3 M351.6,623.4 L365.9,646.4 M348.9,624.3 L350.8,651.3 M344.1,624.3 L342.2,651.3 M341.4,623.4 L327.1,646.4 M337.5,620.6 L320.1,641.3 M335.8,618.3 L310.7,628.4 M334.3,613.7 L308.1,620.3 M334.3,610.9 L308.1,604.3 M335.8,606.3 L310.7,596.2 M337.5,604.0 L320.1,583.3 M341.4,601.2 L327.1,578.2" stroke="#333" stroke-width="2.4"/>
<circle cx="346.5" cy="612.3" r="13.2" fill="#3a3a3a" stroke="#808080" stroke-width="1.1"/>
<circle cx="346.5" cy="612.3" r="9" fill="#1d1d1d" stroke="#8a8a8a" stroke-width="0.9"/>
<text x="346.5" y="616.5999999999999" font-size="12" font-weight="bold" text-anchor="middle" fill="#3a3a3a" stroke="#8a8a8a" stroke-width="0.6">S</text>
<circle cx="456" cy="612.3" r="43.6" fill="#0e0e0f" stroke="#7c7c7c" stroke-width="1.8"/>
<circle cx="456" cy="612.3" r="40.8" fill="none" stroke="#303030" stroke-width="2.6"/>
<circle cx="456" cy="612.3" r="38.8" fill="none" stroke="#6e6e6e" stroke-width="1.3"/>
<path d="M453.6,600.3 L451.7,573.3 M458.4,600.3 L460.3,573.3 M461.1,601.2 L475.4,578.2 M465.0,604.0 L482.4,583.3 M466.7,606.3 L491.8,596.2 M468.2,610.9 L494.4,604.3 M468.2,613.7 L494.4,620.3 M466.7,618.3 L491.8,628.4 M465.0,620.6 L482.4,641.3 M461.1,623.4 L475.4,646.4 M458.4,624.3 L460.3,651.3 M453.6,624.3 L451.7,651.3 M450.9,623.4 L436.6,646.4 M447.0,620.6 L429.6,641.3 M445.3,618.3 L420.2,628.4 M443.8,613.7 L417.6,620.3 M443.8,610.9 L417.6,604.3 M445.3,606.3 L420.2,596.2 M447.0,604.0 L429.6,583.3 M450.9,601.2 L436.6,578.2" stroke="#808080" stroke-width="5.2"/>
<path d="M453.6,600.3 L451.7,573.3 M458.4,600.3 L460.3,573.3 M461.1,601.2 L475.4,578.2 M465.0,604.0 L482.4,583.3 M466.7,606.3 L491.8,596.2 M468.2,610.9 L494.4,604.3 M468.2,613.7 L494.4,620.3 M466.7,618.3 L491.8,628.4 M465.0,620.6 L482.4,641.3 M461.1,623.4 L475.4,646.4 M458.4,624.3 L460.3,651.3 M453.6,624.3 L451.7,651.3 M450.9,623.4 L436.6,646.4 M447.0,620.6 L429.6,641.3 M445.3,618.3 L420.2,628.4 M443.8,613.7 L417.6,620.3 M443.8,610.9 L417.6,604.3 M445.3,606.3 L420.2,596.2 M447.0,604.0 L429.6,583.3 M450.9,601.2 L436.6,578.2" stroke="#333" stroke-width="2.4"/>
<circle cx="456" cy="612.3" r="13.2" fill="#3a3a3a" stroke="#808080" stroke-width="1.1"/>
<circle cx="456" cy="612.3" r="9" fill="#1d1d1d" stroke="#8a8a8a" stroke-width="0.9"/>
<text x="456" y="616.5999999999999" font-size="12" font-weight="bold" text-anchor="middle" fill="#3a3a3a" stroke="#8a8a8a" stroke-width="0.6">S</text>
<path d="M507.5,476.3 H538 Q542,476.3 545,481 L549,488 Q551,491.5 557,491.5 H563 L560.3,658 H507.5 Z" fill="#1b1b1c"/>
<path d="M507.5,545 V476.3 H538 Q542,476.3 545,481 L549,488 Q551,491.5 557,491.5" fill="none" stroke="#7a7a7a" stroke-width="1"/>
<path d="M507.5,545 V676" stroke="#4a4a4a" stroke-width="1"/>
<path d="M508,658 H550 Q542,664 540,676 H508 Z" fill="url(#refl)"/>
<path d="M540,676 Q546,664 552,660 Q556,658 560,658" fill="none" stroke="#8a8a8a" stroke-width="1"/>
<circle cx="547.5" cy="481" r="2.4" fill="#050505" stroke="#3a3a3a" stroke-width="0.6"/>
<circle cx="526" cy="503" r="13" fill="#080808" stroke="#2a2a2a" stroke-width="1"/><circle cx="526.3" cy="502.6" r="11.5" fill="#2fae6c"/><circle cx="531" cy="503" r="7.5" fill="none" stroke="#23904f" stroke-width="1"/><circle cx="523.5" cy="505" r="2.9" fill="#0a0a0a"/><circle cx="532" cy="502" r="1" fill="#0a0a0a"/><circle cx="522" cy="510" r="0.9" fill="#0a0a0a"/>
<text x="525.5" y="525.3" font-size="9" font-weight="bold" text-anchor="middle" fill="#5a5a5a" stroke="#b0b0b0" stroke-width="0.55" textLength="29" lengthAdjust="spacingAndGlyphs">RADIO</text>
<text x="522.5" y="540.3" font-size="9" font-weight="bold" text-anchor="middle" fill="#5a5a5a" stroke="#b0b0b0" stroke-width="0.55" textLength="21" lengthAdjust="spacingAndGlyphs">GPS</text>
<text x="522" y="578.8" font-size="9" font-weight="bold" text-anchor="middle" fill="#5a5a5a" stroke="#b0b0b0" stroke-width="0.55" textLength="18" lengthAdjust="spacingAndGlyphs">WIFI</text>
<text x="522.5" y="633.3" font-size="9" font-weight="bold" text-anchor="middle" fill="#5a5a5a" stroke="#b0b0b0" stroke-width="0.55" textLength="19" lengthAdjust="spacingAndGlyphs">DAB</text>
<circle cx="546.5" cy="537" r="10.5" fill="#0a0a0a" stroke="#2e2e2e" stroke-width="1"/><circle cx="546.5" cy="537" r="7.4" fill="#dedcd2" stroke="#aaa" stroke-width="0.8"/><circle cx="546.5" cy="537" r="4.2" fill="none" stroke="#9a9890" stroke-width="0.8"/><circle cx="546.5" cy="537" r="1.3" fill="#777"/>
<circle cx="546.5" cy="575.7" r="10.5" fill="#0a0a0a" stroke="#2e2e2e" stroke-width="1"/><circle cx="546.5" cy="575.7" r="7.4" fill="#dedcd2" stroke="#aaa" stroke-width="0.8"/><circle cx="546.5" cy="575.7" r="4.2" fill="none" stroke="#9a9890" stroke-width="0.8"/><circle cx="546.5" cy="575.7" r="1.3" fill="#777"/>
<circle cx="546" cy="626.4" r="10" fill="#050505" stroke="#6a6a6a" stroke-width="0.9"/>
<circle cx="549.5" cy="669" r="2.6" fill="#050505" stroke="#4a4a4a" stroke-width="0.7"/>
<text x="266.1" y="442.4" font-size="12" text-anchor="end" textLength="100.2" lengthAdjust="spacingAndGlyphs" fill="#e0232b" stroke="#e0232b" stroke-width="0.5" class="lb">USB charging (2.1A)</text>
<text x="266.1" y="456.3" font-size="12" text-anchor="end" textLength="133.3" lengthAdjust="spacingAndGlyphs" fill="#e0232b" stroke="#e0232b" stroke-width="0.5" class="lb">USB alcohol test (optional)</text>
<path d="M268,438.1 L297.3,438.1 L297.3,498.7 L304,498.7" fill="none" stroke="#e0232b" stroke-width="1.8"/>
<path d="M268,452 L289,452 L289,523 L304,523" fill="none" stroke="#e0232b" stroke-width="1.8"/>
<text x="303.3" y="414.8" font-size="12" text-anchor="start" textLength="59.5" lengthAdjust="spacingAndGlyphs" fill="#e0232b" stroke="#e0232b" stroke-width="0.5" class="lb">Audio input</text>
<text x="282.4" y="428.7" font-size="12" text-anchor="start" textLength="100.3" lengthAdjust="spacingAndGlyphs" fill="#e0232b" stroke="#e0232b" stroke-width="0.5" class="lb">(Left/Right channel)</text>
<path d="M354,430.4 L354,477.4" fill="none" stroke="#e0232b" stroke-width="1.8"/>
<text x="354.9" y="401.1" font-size="12" text-anchor="start" textLength="65.5" lengthAdjust="spacingAndGlyphs" fill="#e0232b" stroke="#e0232b" stroke-width="0.5" class="lb">Video output</text>
<path d="M386.3,404 L386.3,500" fill="none" stroke="#e0232b" stroke-width="1.8"/>
<text x="389.9" y="416.0" font-size="12" text-anchor="start" textLength="58.8" lengthAdjust="spacingAndGlyphs" fill="#e0232b" stroke="#e0232b" stroke-width="0.5" class="lb">Video input</text>
<path d="M398.8,418.9 L398.8,530.7 L391,530.7" fill="none" stroke="#e0232b" stroke-width="1.8"/>
<text x="457.3" y="386.6" font-size="12" text-anchor="start" textLength="132" lengthAdjust="spacingAndGlyphs" fill="#e0232b" stroke="#e0232b" stroke-width="0.5" class="lb">Subwoofer output (active)</text>
<path d="M473.9,389.5 L473.9,457 L446.7,457 L446.7,499.8" fill="none" stroke="#e0232b" stroke-width="1.8"/>
<text x="478.7" y="400.8" font-size="12" text-anchor="start" textLength="109.3" lengthAdjust="spacingAndGlyphs" fill="#e0232b" stroke="#e0232b" stroke-width="0.5" class="lb">Reversing video input</text>
<path d="M483.5,402.3 L483.5,473 L460.5,473 L460.5,530.7 L452,530.7" fill="none" stroke="#e0232b" stroke-width="1.8"/>
<text x="489.3" y="417.8" font-size="12" text-anchor="start" textLength="130.7" lengthAdjust="spacingAndGlyphs" fill="#e0232b" stroke="#e0232b" stroke-width="0.5" class="lb">2 USB multimedia reading</text>
<path d="M495.5,421 L495.5,490.2" fill="none" stroke="#e0232b" stroke-width="1.8"/>
<text x="517.3" y="434.6" font-size="12" text-anchor="start" textLength="72" lengthAdjust="spacingAndGlyphs" fill="#e0232b" stroke="#e0232b" stroke-width="0.5" class="lb">Radio antenna</text>
<path d="M524.8,437.5 L524.8,503" fill="none" stroke="#e0232b" stroke-width="1.8"/>
<text x="538.7" y="454.1" font-size="12" text-anchor="start" textLength="63.2" lengthAdjust="spacingAndGlyphs" fill="#e0232b" stroke="#e0232b" stroke-width="0.5" class="lb">GPS antenna</text>
<path d="M550.7,456.2 L550.7,537" fill="none" stroke="#e0232b" stroke-width="1.8"/>
<text x="110.2" y="562.0" font-size="12" text-anchor="start" textLength="53.8" lengthAdjust="spacingAndGlyphs" fill="#e0232b" stroke="#e0232b" stroke-width="0.5" class="lb">Power jack</text>
<path d="M164.5,557.7 L191.7,557.7" fill="none" stroke="#e0232b" stroke-width="1.8"/>
<text x="140.5" y="648.4" font-size="12" text-anchor="start" textLength="19.2" lengthAdjust="spacingAndGlyphs" fill="#e0232b" stroke="#e0232b" stroke-width="0.5" class="lb">MIC</text>
<path d="M160,644.1 L191,644.1" fill="none" stroke="#e0232b" stroke-width="1.8"/>
<text x="574.8" y="581.9" font-size="12" text-anchor="start" textLength="20.8" lengthAdjust="spacingAndGlyphs" fill="#e0232b" stroke="#e0232b" stroke-width="0.5" class="lb">WIFI</text>
<text x="574.8" y="595.5" font-size="12" text-anchor="start" textLength="40.8" lengthAdjust="spacingAndGlyphs" fill="#e0232b" stroke="#e0232b" stroke-width="0.5" class="lb">antenna</text>
<path d="M546,575.7 L568.4,575.7" fill="none" stroke="#e0232b" stroke-width="1.8"/>
<text x="556.4" y="647.2" font-size="12" text-anchor="start" textLength="64.8" lengthAdjust="spacingAndGlyphs" fill="#e0232b" stroke="#e0232b" stroke-width="0.5" class="lb">DAB antenna</text>
<text x="556.4" y="659.5" font-size="12" text-anchor="start" textLength="48.8" lengthAdjust="spacingAndGlyphs" fill="#e0232b" stroke="#e0232b" stroke-width="0.5" class="lb">(Optional)</text>
<path d="M546,624.8 L590.5,624.8 L590.5,637.6" fill="none" stroke="#e0232b" stroke-width="1.8"/>
<path d="M415.5,545 L415.5,695" fill="none" stroke="#e0232b" stroke-width="1.8"/>
<text x="389.9" y="707.6" font-size="12" text-anchor="start" textLength="67.1" lengthAdjust="spacingAndGlyphs" fill="#e0232b" stroke="#e0232b" stroke-width="0.5" class="lb">Audio output</text>
<text x="373.4" y="721.6" font-size="12" text-anchor="start" textLength="100.4" lengthAdjust="spacingAndGlyphs" fill="#e0232b" stroke="#e0232b" stroke-width="0.5" class="lb">(Left/Right channel)</text>
</svg>
</body></html>
